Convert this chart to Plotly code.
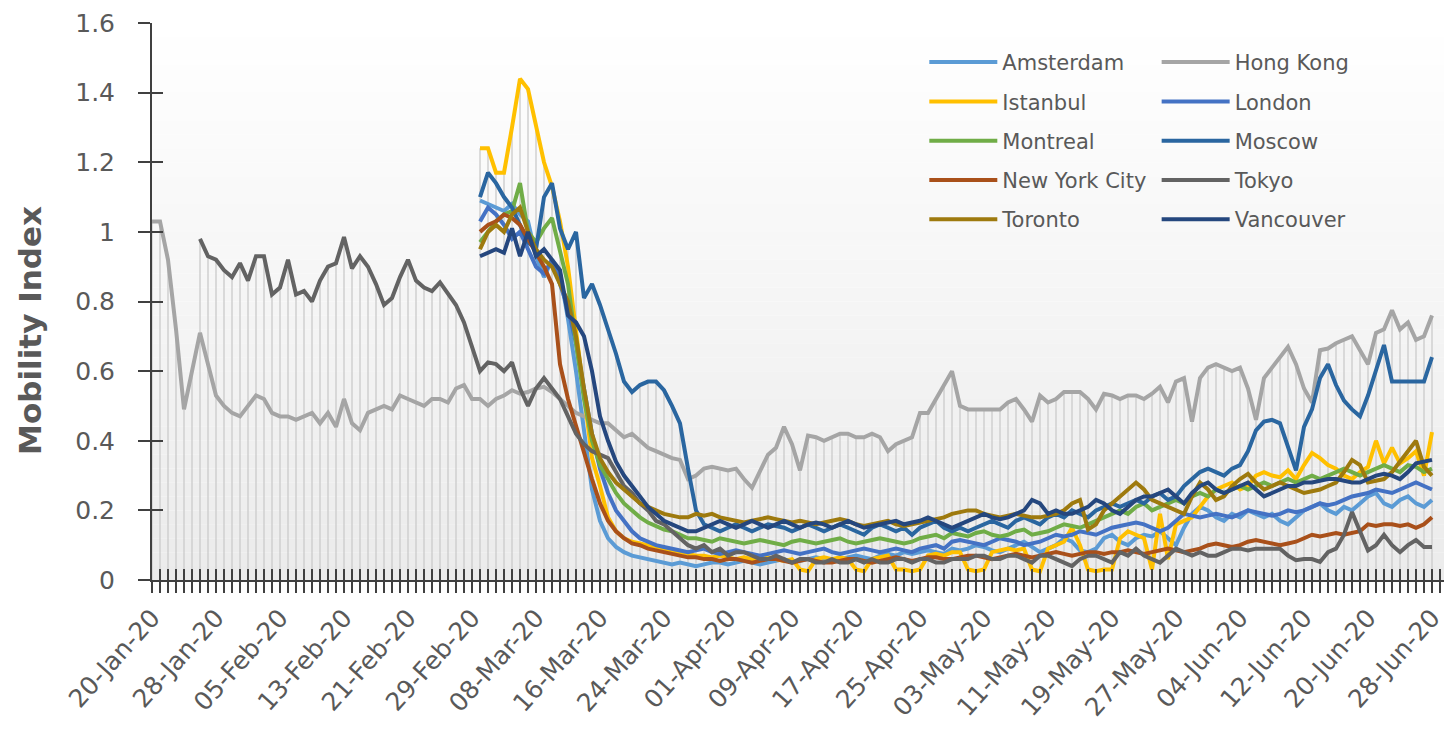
import pandas as pd
import plotly.graph_objects as go

# ---------------- data ----------------
dates = pd.date_range("2020-01-20", "2020-06-28", freq="D")
date_labels = [d.strftime("%d-%b-%y") for d in dates]
tick_every = 8
y_tick_vals = [0, 0.2, 0.4, 0.6, 0.8, 1.0, 1.2, 1.4, 1.6]
y_tick_text = ["0", "0.2", "0.4", "0.6", "0.8", "1", "1.2", "1.4", "1.6"]
y_title = "Mobility Index"

hong_kong_start = 0
hong_kong = [
    1.03, 1.03, 0.92, 0.72, 0.49, 0.60, 0.71, 0.62, 0.53, 0.50,
    0.48, 0.47, 0.50, 0.53, 0.52, 0.48, 0.47, 0.47, 0.46, 0.47,
    0.48, 0.45, 0.48, 0.44, 0.52, 0.45, 0.43, 0.48, 0.49, 0.50,
    0.49, 0.53, 0.52, 0.51, 0.50, 0.52, 0.52, 0.51, 0.55, 0.56,
    0.52, 0.52, 0.50, 0.52, 0.53, 0.545, 0.535, 0.54, 0.55, 0.555,
    0.54, 0.52, 0.50, 0.48, 0.47, 0.46, 0.45, 0.45, 0.43, 0.41,
    0.42, 0.40, 0.38, 0.37, 0.36, 0.35, 0.345, 0.29, 0.30, 0.32,
    0.325, 0.32, 0.315, 0.32, 0.29, 0.265, 0.31, 0.36, 0.38, 0.44,
    0.39, 0.315, 0.415, 0.41, 0.40, 0.41, 0.42, 0.42, 0.41, 0.41,
    0.42, 0.41, 0.37, 0.39, 0.40, 0.41, 0.48, 0.48, 0.52, 0.56,
    0.60, 0.50, 0.49, 0.49, 0.49, 0.49, 0.49, 0.51, 0.52, 0.49,
    0.455, 0.53, 0.51, 0.52, 0.54, 0.54, 0.54, 0.52, 0.49, 0.535,
    0.53, 0.52, 0.53, 0.53, 0.52, 0.535, 0.555, 0.51, 0.57, 0.58,
    0.455, 0.58, 0.61, 0.62, 0.61, 0.60, 0.61, 0.55, 0.46, 0.58,
    0.61, 0.64, 0.67, 0.62, 0.55, 0.51, 0.66, 0.665, 0.68, 0.69,
    0.70, 0.66, 0.62, 0.71, 0.72, 0.775, 0.72, 0.74, 0.69, 0.70,
    0.76,
]

tokyo_start = 6
tokyo = [
    0.98, 0.93, 0.92, 0.89, 0.87, 0.91, 0.86, 0.93, 0.93, 0.82,
    0.84, 0.92, 0.82, 0.83, 0.80, 0.86, 0.90, 0.91, 0.985, 0.895,
    0.93, 0.90, 0.85, 0.79, 0.81, 0.87, 0.92, 0.86, 0.84, 0.83,
    0.855, 0.82, 0.79, 0.74, 0.67, 0.60, 0.625, 0.62, 0.60, 0.625,
    0.55, 0.50, 0.55, 0.58, 0.55, 0.52, 0.47, 0.42, 0.39, 0.37,
    0.36, 0.35, 0.31, 0.27, 0.25, 0.22, 0.20, 0.17, 0.16, 0.14,
    0.12, 0.10, 0.09, 0.10, 0.08, 0.09, 0.07, 0.08, 0.08, 0.07,
    0.06, 0.06, 0.07, 0.06, 0.05, 0.06, 0.06, 0.05, 0.05, 0.06,
    0.05, 0.05, 0.06, 0.05, 0.06, 0.05, 0.05, 0.06, 0.06, 0.05,
    0.06, 0.06, 0.05, 0.05, 0.06, 0.06, 0.06, 0.07, 0.07, 0.06,
    0.06, 0.07, 0.07, 0.06, 0.05, 0.07, 0.07, 0.06, 0.05, 0.04,
    0.06, 0.07, 0.07, 0.06, 0.05, 0.08, 0.07, 0.09, 0.07, 0.06,
    0.05, 0.07, 0.09, 0.08, 0.07, 0.08, 0.07, 0.07, 0.08, 0.09,
    0.09, 0.085, 0.09, 0.09, 0.09, 0.09, 0.07, 0.057, 0.06, 0.06,
    0.052, 0.08, 0.09, 0.13, 0.195, 0.14, 0.085, 0.10, 0.13, 0.10,
    0.08, 0.10, 0.115, 0.095, 0.095,
]

others_start = 41
amsterdam = [
    1.09, 1.08, 1.07, 1.06, 1.08, 1.05, 1.03, 0.93, 0.87, 0.92,
    0.88, 0.75, 0.60, 0.42, 0.26, 0.17, 0.12, 0.095, 0.08, 0.07,
    0.065, 0.06, 0.055, 0.05, 0.045, 0.05, 0.045, 0.04, 0.045, 0.05,
    0.05, 0.045, 0.05, 0.055, 0.05, 0.045, 0.05, 0.055, 0.06, 0.05,
    0.055, 0.06, 0.065, 0.06, 0.055, 0.06, 0.065, 0.07, 0.065, 0.06,
    0.07, 0.075, 0.07, 0.08, 0.075, 0.08, 0.085, 0.08, 0.075, 0.09,
    0.085, 0.09, 0.10, 0.095, 0.085, 0.08, 0.09, 0.10, 0.11, 0.095,
    0.08, 0.09, 0.10, 0.12, 0.11, 0.085, 0.08, 0.09, 0.12, 0.13,
    0.11, 0.10, 0.12, 0.13, 0.125, 0.14, 0.12, 0.10, 0.15, 0.19,
    0.21, 0.20, 0.18, 0.17, 0.19, 0.18, 0.20, 0.19, 0.18, 0.19,
    0.17, 0.16, 0.18, 0.20, 0.21, 0.22, 0.20, 0.19, 0.21, 0.20,
    0.22, 0.24, 0.25, 0.22, 0.21, 0.23, 0.24, 0.22, 0.21, 0.23,
]
istanbul = [
    1.24, 1.24, 1.17, 1.17, 1.30, 1.44, 1.41, 1.30, 1.20, 1.13,
    1.03, 0.90, 0.72, 0.55, 0.35, 0.27, 0.18, 0.14, 0.12, 0.11,
    0.105, 0.10, 0.095, 0.09, 0.085, 0.08, 0.075, 0.07, 0.07, 0.065,
    0.07, 0.065, 0.06, 0.065, 0.06, 0.06, 0.065, 0.06, 0.055, 0.06,
    0.03, 0.025, 0.06, 0.065, 0.06, 0.065, 0.06, 0.03, 0.025, 0.06,
    0.065, 0.07, 0.03, 0.03, 0.025, 0.03, 0.07, 0.075, 0.07, 0.08,
    0.08, 0.03, 0.025, 0.03, 0.08, 0.085, 0.09, 0.085, 0.09, 0.03,
    0.025, 0.09, 0.10, 0.11, 0.15, 0.10, 0.03, 0.025, 0.03, 0.03,
    0.12, 0.14, 0.13, 0.12, 0.03, 0.19, 0.06, 0.16, 0.17, 0.18,
    0.21, 0.24, 0.26, 0.27, 0.28, 0.26, 0.27, 0.30, 0.31, 0.30,
    0.295, 0.315, 0.29, 0.33, 0.365, 0.35, 0.33, 0.32, 0.30, 0.29,
    0.31, 0.325, 0.40, 0.335, 0.38, 0.335, 0.35, 0.37, 0.30, 0.425,
]
london = [
    1.03, 1.07, 1.05, 1.02, 0.98, 1.00, 0.95, 0.90, 0.88, 0.92,
    0.85, 0.78, 0.68, 0.55, 0.42, 0.32, 0.25, 0.20, 0.17, 0.14,
    0.12, 0.11, 0.10, 0.095, 0.09, 0.085, 0.08, 0.085, 0.09, 0.08,
    0.075, 0.08, 0.085, 0.08, 0.075, 0.07, 0.075, 0.08, 0.085, 0.08,
    0.075, 0.08, 0.085, 0.09, 0.08, 0.075, 0.08, 0.085, 0.09, 0.085,
    0.08, 0.085, 0.09, 0.085, 0.08, 0.09, 0.095, 0.10, 0.09, 0.11,
    0.115, 0.11, 0.105, 0.10, 0.11, 0.12, 0.115, 0.11, 0.10, 0.105,
    0.11, 0.12, 0.13, 0.125, 0.13, 0.14, 0.135, 0.13, 0.14, 0.15,
    0.155, 0.16, 0.165, 0.16, 0.15, 0.14, 0.15, 0.17, 0.19, 0.185,
    0.18, 0.185, 0.19, 0.185, 0.18, 0.19, 0.20, 0.195, 0.19, 0.185,
    0.19, 0.20, 0.195, 0.20, 0.21, 0.22, 0.215, 0.22, 0.23, 0.24,
    0.245, 0.25, 0.26, 0.255, 0.25, 0.26, 0.27, 0.28, 0.27, 0.26,
]
montreal = [
    0.97, 1.00, 1.03, 1.05, 1.06, 1.14, 1.00, 0.97, 1.01, 1.04,
    0.95, 0.85, 0.68, 0.52, 0.40, 0.33, 0.29, 0.25, 0.22, 0.20,
    0.18, 0.165, 0.155, 0.145, 0.14, 0.13, 0.12, 0.12, 0.115, 0.11,
    0.12, 0.115, 0.11, 0.105, 0.11, 0.115, 0.11, 0.105, 0.10, 0.11,
    0.115, 0.11, 0.105, 0.11, 0.115, 0.12, 0.11, 0.105, 0.11, 0.115,
    0.12, 0.115, 0.11, 0.105, 0.11, 0.12, 0.125, 0.13, 0.12, 0.135,
    0.13, 0.125, 0.135, 0.14, 0.13, 0.125, 0.13, 0.14, 0.145, 0.13,
    0.135, 0.14, 0.15, 0.16, 0.155, 0.15, 0.16, 0.17, 0.18, 0.19,
    0.20, 0.19, 0.21, 0.22, 0.20, 0.21, 0.22, 0.23, 0.22, 0.24,
    0.25, 0.24, 0.26, 0.25, 0.26, 0.27, 0.26, 0.27, 0.28, 0.27,
    0.28, 0.29, 0.28, 0.29, 0.30, 0.29, 0.30, 0.31, 0.32, 0.31,
    0.30, 0.31, 0.32, 0.33, 0.32, 0.31, 0.33, 0.325, 0.31, 0.32,
]
moscow = [
    1.10, 1.17, 1.14, 1.10, 1.07, 1.02, 0.97, 0.95, 1.10, 1.14,
    1.01, 0.95, 1.00, 0.81, 0.85, 0.79, 0.72, 0.65, 0.57, 0.54,
    0.56, 0.57, 0.57, 0.545, 0.50, 0.45, 0.32, 0.20, 0.16, 0.15,
    0.14, 0.15, 0.16, 0.15, 0.14, 0.15, 0.16, 0.155, 0.15, 0.14,
    0.15, 0.16, 0.15, 0.14, 0.15, 0.16, 0.15, 0.14, 0.13, 0.15,
    0.16, 0.15, 0.14, 0.15, 0.13, 0.15, 0.16, 0.17, 0.15, 0.14,
    0.15, 0.14, 0.15, 0.16, 0.17, 0.16, 0.15, 0.17, 0.18, 0.17,
    0.16, 0.18, 0.19, 0.18, 0.20, 0.19, 0.18, 0.20, 0.21, 0.22,
    0.21, 0.22, 0.23, 0.22, 0.24, 0.25, 0.23, 0.24, 0.27, 0.29,
    0.31, 0.32, 0.31, 0.30, 0.32, 0.33, 0.37, 0.43, 0.455, 0.46,
    0.45, 0.38, 0.315, 0.44, 0.49, 0.58, 0.62, 0.56, 0.515, 0.49,
    0.47, 0.53, 0.60, 0.675, 0.57, 0.57, 0.57, 0.57, 0.57, 0.64,
]
new_york_city = [
    1.00, 1.02, 1.03, 1.05, 1.04, 1.02, 0.98, 0.94, 0.90, 0.85,
    0.62, 0.52, 0.44, 0.36, 0.29, 0.22, 0.17, 0.14, 0.12, 0.105,
    0.10, 0.09, 0.085, 0.08, 0.075, 0.07, 0.065, 0.065, 0.06, 0.06,
    0.055, 0.06, 0.06, 0.055, 0.05, 0.055, 0.06, 0.06, 0.055, 0.05,
    0.055, 0.06, 0.055, 0.05, 0.05, 0.055, 0.06, 0.06, 0.055, 0.05,
    0.055, 0.06, 0.065, 0.06, 0.055, 0.06, 0.065, 0.065, 0.06, 0.06,
    0.065, 0.07, 0.07, 0.065, 0.06, 0.065, 0.07, 0.075, 0.07, 0.065,
    0.07, 0.075, 0.08, 0.075, 0.07, 0.075, 0.08, 0.08, 0.075, 0.08,
    0.08, 0.085, 0.08, 0.075, 0.08, 0.085, 0.09, 0.085, 0.08, 0.085,
    0.09, 0.10, 0.105, 0.10, 0.095, 0.10, 0.11, 0.115, 0.11, 0.105,
    0.10, 0.105, 0.11, 0.12, 0.13, 0.125, 0.13, 0.135, 0.13, 0.135,
    0.14, 0.16, 0.155, 0.16, 0.16, 0.155, 0.16, 0.15, 0.16, 0.18,
]
toronto = [
    0.95, 1.00, 1.02, 1.00, 1.05, 1.07, 1.00, 0.95, 0.92, 0.90,
    0.85, 0.80, 0.70, 0.55, 0.42, 0.35, 0.31, 0.28, 0.26, 0.24,
    0.22, 0.21, 0.20, 0.19, 0.185, 0.18, 0.18, 0.19, 0.185, 0.19,
    0.18, 0.175, 0.17, 0.165, 0.17, 0.175, 0.18, 0.175, 0.17, 0.165,
    0.17, 0.165, 0.16, 0.165, 0.17, 0.175, 0.17, 0.16, 0.155, 0.16,
    0.165, 0.17, 0.16, 0.155, 0.16, 0.165, 0.17, 0.175, 0.18, 0.19,
    0.195, 0.20, 0.20, 0.19, 0.185, 0.18, 0.185, 0.19, 0.185, 0.18,
    0.18, 0.185, 0.19, 0.20, 0.22, 0.23, 0.145, 0.16, 0.20, 0.22,
    0.24, 0.26, 0.28, 0.26, 0.23, 0.22, 0.21, 0.20, 0.19, 0.24,
    0.28, 0.26, 0.23, 0.24, 0.27, 0.29, 0.305, 0.28, 0.26, 0.27,
    0.28, 0.27, 0.26, 0.25, 0.255, 0.26, 0.27, 0.28, 0.31, 0.345,
    0.33, 0.28, 0.285, 0.29, 0.31, 0.34, 0.37, 0.40, 0.325, 0.30,
]
vancouver = [
    0.93, 0.94, 0.95, 0.94, 1.01, 0.93, 1.00, 0.93, 0.95, 0.92,
    0.89, 0.76, 0.74, 0.70, 0.60, 0.47, 0.40, 0.34, 0.30, 0.27,
    0.24, 0.21, 0.19, 0.17, 0.16, 0.15, 0.14, 0.14, 0.15, 0.16,
    0.17, 0.16, 0.15, 0.16, 0.17, 0.16, 0.15, 0.16, 0.17, 0.16,
    0.15, 0.16, 0.165, 0.16, 0.15, 0.16, 0.17, 0.16, 0.15, 0.155,
    0.16, 0.165, 0.17, 0.16, 0.165, 0.17, 0.18, 0.17, 0.16, 0.15,
    0.16, 0.17, 0.18, 0.19, 0.18, 0.175, 0.18, 0.19, 0.20, 0.23,
    0.22, 0.19, 0.20, 0.19, 0.19, 0.20, 0.21, 0.23, 0.22, 0.20,
    0.19, 0.21, 0.23, 0.24, 0.24, 0.25, 0.26, 0.24, 0.22, 0.25,
    0.27, 0.28, 0.26, 0.25, 0.26, 0.27, 0.28, 0.26, 0.24, 0.25,
    0.26, 0.27, 0.27, 0.28, 0.28, 0.285, 0.29, 0.29, 0.285, 0.28,
    0.28, 0.29, 0.30, 0.305, 0.30, 0.29, 0.31, 0.335, 0.34, 0.345,
]

# name, values, first day index, colour, legend column
series = [
    ("Amsterdam", amsterdam, others_start, "#5B9BD5", "legend"),
    ("Hong Kong", hong_kong, hong_kong_start, "#A5A5A5", "legend2"),
    ("Istanbul", istanbul, others_start, "#FFC000", "legend"),
    ("London", london, others_start, "#4472C4", "legend2"),
    ("Montreal", montreal, others_start, "#70AD47", "legend"),
    ("Moscow", moscow, others_start, "#2A66A0", "legend2"),
    ("New York City", new_york_city, others_start, "#A9501A", "legend"),
    ("Tokyo", tokyo, tokyo_start, "#636363", "legend2"),
    ("Toronto", toronto, others_start, "#9E7A0E", "legend"),
    ("Vancouver", vancouver, others_start, "#25477E", "legend2"),
]

n_days = len(dates)
fig = go.Figure()

# background gradient of plot area (white at top, light grey at bottom)
n_bands = 40
for i in range(n_bands):
    t = (i + 0.5) / n_bands
    c = int(round(255 - 20 * t))
    fig.add_shape(type="rect", xref="paper", yref="paper",
                  x0=0, x1=1, y0=1 - (i + 1) / n_bands, y1=1 - i / n_bands,
                  fillcolor=f"rgb({c},{c},{c})", line=dict(width=0), layer="below")

# drop lines: from highest value of each day down to the axis
day_max = [None] * n_days
for _, vals, start, _, _ in series:
    for k, v in enumerate(vals):
        d = start + k
        if day_max[d] is None or v > day_max[d]:
            day_max[d] = v
dx, dy = [], []
for d, m in enumerate(day_max):
    dx += [d, d, None]
    dy += [0, m, None]
fig.add_trace(go.Scatter(x=dx, y=dy, mode="lines",
                         line=dict(color="#CDCDCD", width=1.4),
                         hoverinfo="skip", showlegend=False))

for name, vals, start, color, leg in series:
    fig.add_trace(go.Scatter(
        x=list(range(start, start + len(vals))), y=vals, mode="lines",
        name=name, line=dict(color=color, width=4),
        legend=leg, legendgroup=name,
    ))

# invisible trace carrying the inner halves of the crossing tick marks
fig.add_trace(go.Scatter(x=[0, n_days - 1], y=[0, 0], xaxis="x2", yaxis="y2",
                         mode="lines", line=dict(width=0), hoverinfo="skip",
                         showlegend=False))

axis_col = "#404040"
label_col = "#595959"
x_range = [0, n_days + 1.25]
tick_idx = list(range(0, n_days, tick_every))

legend_common = dict(xanchor="left", yanchor="top", bgcolor="rgba(0,0,0,0)",
                     font=dict(size=21, color=label_col),
                     tracegroupgap=9, itemwidth=68, traceorder="grouped")

fig.update_layout(
    width=1444, height=731,
    margin=dict(l=144, r=2, t=15, b=159),
    paper_bgcolor="white", plot_bgcolor="rgba(0,0,0,0)",
    font=dict(family="DejaVu Sans", color=label_col),
    xaxis=dict(
        range=x_range, tickvals=tick_idx, ticktext=[date_labels[i] for i in tick_idx],
        tickangle=-48, tickfont=dict(size=25, color=label_col),
        ticks="outside", ticklen=11, tickwidth=1.5, tickcolor=axis_col,
        minor=dict(ticks="outside", dtick=1, tick0=0, ticklen=11, tickwidth=1.5,
                   tickcolor=axis_col, showgrid=False),
        showline=True, linecolor=axis_col, linewidth=2,
        showgrid=False, zeroline=False,
    ),
    xaxis2=dict(
        range=x_range, overlaying="x", anchor="y", side="bottom",
        dtick=1, tick0=0, ticks="inside", ticklen=11, tickwidth=1.5,
        tickcolor=axis_col, showticklabels=False, showgrid=False,
        zeroline=False, showline=False,
    ),
    yaxis=dict(
        range=[0, 1.6], tickvals=y_tick_vals, ticktext=y_tick_text,
        tickfont=dict(size=25, color=label_col),
        ticks="outside", ticklen=12, tickwidth=1.5, tickcolor=axis_col,
        ticklabelstandoff=18,
        showline=True, linecolor=axis_col, linewidth=2,
        showgrid=False, zeroline=False,
    ),
    yaxis2=dict(
        range=[0, 1.6], overlaying="y", anchor="x", side="left",
        tickvals=y_tick_vals, ticks="inside", ticklen=11, tickwidth=1.5,
        tickcolor=axis_col, showticklabels=False, showgrid=False,
        zeroline=False, showline=False,
    ),
    legend=dict(x=0.595, y=0.966, **legend_common),
    legend2=dict(x=0.774, y=0.966, **legend_common),
    showlegend=True,
    annotations=[dict(
        text=f"<b>{y_title}</b>", textangle=-90, xref="paper", yref="paper",
        x=-0.094, y=0.449, xanchor="center", yanchor="middle", showarrow=False,
        font=dict(size=31, color=label_col, family="DejaVu Sans"),
    )],
)

fig.write_html("out.html")
